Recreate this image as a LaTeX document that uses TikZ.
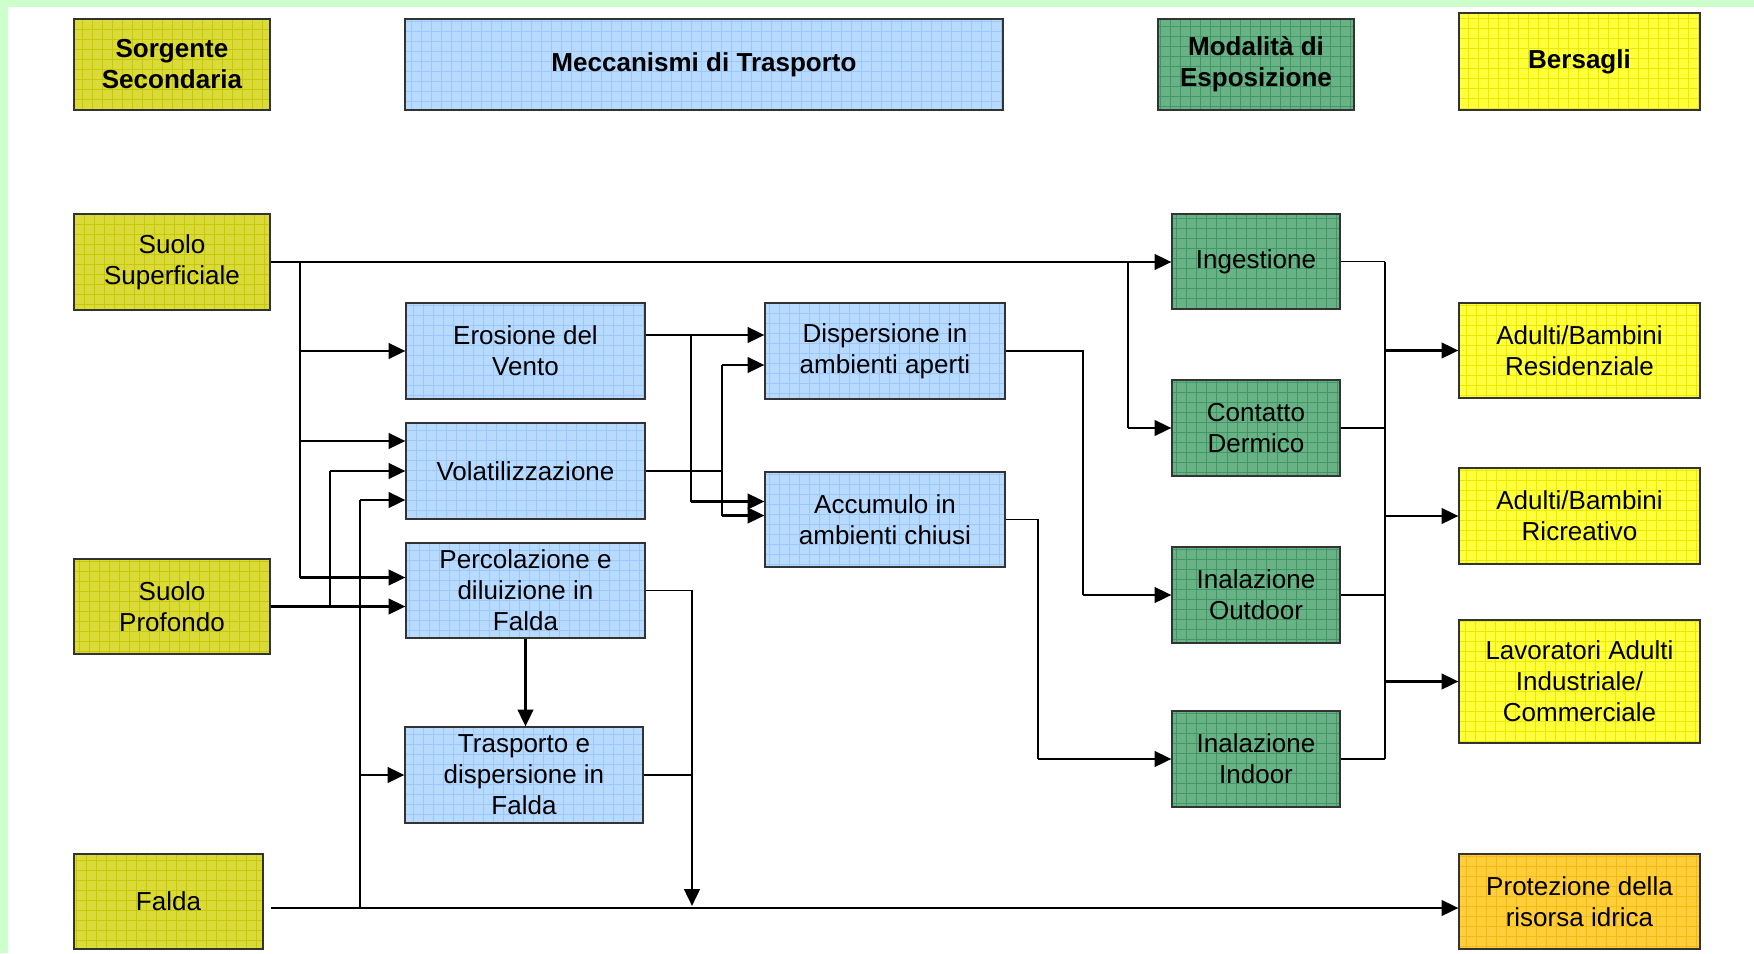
\documentclass[tikz,border=0pt]{standalone}
\usepackage{fontspec}
\setmainfont{Liberation Sans}
\usetikzlibrary{arrows.meta,calc}

\definecolor{bordo}{RGB}{204,255,204}
\definecolor{oliva}{RGB}{218,218,56}
\definecolor{olivagrid}{RGB}{200,200,10}
\definecolor{azzurro}{RGB}{185,218,255}
\definecolor{azzurrogrid}{RGB}{155,200,250}
\definecolor{verde}{RGB}{104,178,134}
\definecolor{verdegrid}{RGB}{64,152,102}
\definecolor{giallo}{RGB}{255,255,60}
\definecolor{giallogrid}{RGB}{235,235,0}
\definecolor{arancio}{RGB}{255,206,56}
\definecolor{aranciogrid}{RGB}{242,186,20}

\newcommand{\testo}{\fontsize{18.5}{22}\selectfont}
% name, style, x1, y1, x2, y2, text (pixel coordinates)
\newcommand{\blocco}[7]{\node[#2, minimum width={(#5-#3)*0.025cm}, minimum height={(#6-#4)*0.025cm}] (#1) at ({(#3+#5)/2},{(#4+#6)/2}) {#7};}

\tikzset{
  box/.style={draw=black!80, line width=0.8pt, inner sep=0pt, align=center, font=\testo},
  gridded/.style={path picture={\draw[#1, line width=0.5pt] (path picture bounding box.south west) grid[step=0.25cm] (path picture bounding box.north east);}},
  src/.style={box, fill=oliva, gridded=olivagrid},
  mech/.style={box, fill=azzurro, gridded=azzurrogrid},
  expo/.style={box, fill=verde, gridded=verdegrid},
  target/.style={box, fill=giallo, gridded=giallogrid},
  water/.style={box, fill=arancio, gridded=aranciogrid},
  head/.style={font=\testo\bfseries},
  flow/.style={line width=2pt, -{Triangle[length=12pt,width=11pt]}},
  trunk/.style={line width=1.5pt},
  link/.style={line width=1pt}
}

\begin{document}
\begin{tikzpicture}[x=0.025cm, y=-0.025cm]
	%%%%% SFONDO %%%%%
	\useasboundingbox (0,0) rectangle (1754,953);
	\fill[white] (0,0) rectangle (1754,953);
	\fill[bordo] (0,0) rectangle (1754,7);
	\fill[bordo] (0,0) rectangle (8,953);
	
	%%%%% INTESTAZIONI %%%%%
	\blocco{sorg}{src,head}{74}{19}{270}{110}{Sorgente\\Secondaria}
	\blocco{mecc}{mech,head}{405}{19}{1003}{110}{Meccanismi di Trasporto}
	\blocco{modal}{expo,head}{1158}{19}{1354}{110}{Modalità di\\Esposizione}
	\blocco{bers}{target,head}{1459}{13}{1700}{110}{Bersagli}
	
	%%%%% SORGENTI %%%%%
	\blocco{suolosup}{src}{74}{214}{270}{310}{Suolo\\Superficiale}
	\blocco{suoloprof}{src}{74}{559}{270}{654}{Suolo\\Profondo}
	\blocco{falda}{src}{74}{854}{263}{949}{Falda}
	
	%%%%% TRASPORTO %%%%%
	\blocco{erosione}{mech}{406}{303}{645}{399}{Erosione del\\Vento}
	\blocco{volat}{mech}{406}{423}{645}{519}{Volatilizzazione}
	\blocco{perc}{mech}{406}{543}{645}{638}{Percolazione e\\diluizione in\\Falda}
	\blocco{trasp}{mech}{405}{727}{643}{823}{Trasporto e\\dispersione in\\Falda}
	\blocco{disp}{mech}{765}{303}{1005}{399}{Dispersione in\\ambienti aperti}
	\blocco{accum}{mech}{765}{472}{1005}{567}{Accumulo in\\ambienti chiusi}
	
	%%%%% ESPOSIZIONE %%%%%
	\blocco{ingest}{expo}{1172}{214}{1340}{309}{Ingestione}
	\blocco{contatto}{expo}{1172}{380}{1340}{476}{Contatto\\Dermico}
	\blocco{outdoor}{expo}{1172}{547}{1340}{643}{Inalazione\\Outdoor}
	\blocco{indoor}{expo}{1172}{711}{1340}{807}{Inalazione\\Indoor}
	
	%%%%% BERSAGLI %%%%%
	\blocco{resid}{target}{1459}{303}{1700}{398}{Adulti/Bambini\\Residenziale}
	\blocco{ricr}{target}{1459}{468}{1700}{564}{Adulti/Bambini\\Ricreativo}
	\blocco{lavor}{target}{1459}{620}{1700}{743}{Lavoratori Adulti\\Industriale/\\Commerciale}
	\blocco{prot}{water}{1459}{854}{1700}{949}{Protezione della\\risorsa idrica}
	
	%%%%% PUNTI DI ARRIVO %%%%%
	\coordinate (volA) at ([yshift=0.75cm]volat.west);
	\coordinate (volC) at ([yshift=-0.725cm]volat.west);
	\coordinate (percA) at ([yshift=0.325cm]perc.west);
	\coordinate (erosE) at ([yshift=0.4cm]erosione.east);
	\coordinate (dispA) at ([yshift=0.4cm]disp.west);
	\coordinate (dispB) at ([yshift=-0.35cm]disp.west);
	\coordinate (accA) at ([yshift=0.45cm]accum.west);
	\coordinate (accB) at ([yshift=0.1cm]accum.west);
	\coordinate (fS) at ([shift={(0.175cm,-0.1625cm)}]falda.east);
	
	%%%%% SUOLO SUPERFICIALE %%%%%
	\coordinate (tA) at (300,262);
	\draw[flow] (suolosup.east) -- (suolosup.east -| ingest.west);
	\draw[trunk] (tA) -- (tA |- percA);
	\draw[flow] (tA |- erosione.west) -- (erosione.west);
	\draw[flow] (tA |- volA) -- (volA);
	\draw[flow] (tA |- percA) -- (percA);
	
	%%%%% SUOLO PROFONDO %%%%%
	\coordinate (tB) at (330,606.5);
	\draw[flow] (suoloprof.east) -- (suoloprof.east -| perc.west);
	\draw[trunk] (tB) -- (tB |- volat.west);
	\draw[flow] (tB |- volat.west) -- (volat.west);
	
	%%%%% FALDA %%%%%
	\coordinate (tC) at (360,908);
	\draw[flow] (fS) -- (fS -| prot.west);
	\draw[trunk] (tC) -- (tC |- volC);
	\draw[flow] (tC |- volC) -- (volC);
	\draw[flow] (tC |- trasp.west) -- (trasp.west);
	
	%%%%% PERCOLAZIONE / TRASPORTO %%%%%
	\coordinate (jD) at (692,906);
	\draw[flow] (perc.south) -- (perc.south |- trasp.north);
	\draw[link] (perc.east) -| (jD |- trasp.east);
	\draw[link] (trasp.east) -- (jD |- trasp.east);
	\draw[flow] (jD |- trasp.east) -- (jD);
	
	%%%%% EROSIONE / VOLATILIZZAZIONE %%%%%
	\coordinate (xE) at (691,0);
	\coordinate (xV) at (722,0);
	\draw[flow] (erosE) -- (dispA);
	\draw[trunk] (xE |- erosE) -- (xE |- accA);
	\draw[flow] (xE |- accA) -- (accA);
	\draw[link] (volat.east) -- (xV |- volat.east);
	\draw[trunk] (xV |- dispB) -- (xV |- accB);
	\draw[flow] (xV |- dispB) -- (dispB);
	\draw[flow] (xV |- accB) -- (accB);
	
	%%%%% VERSO L'ESPOSIZIONE %%%%%
	\coordinate (xF) at (1083,0);
	\coordinate (xG) at (1038,0);
	\coordinate (xI) at (1128,0);
	\draw[link] (disp.east) -| (xF |- outdoor.west);
	\draw[flow] (xF |- outdoor.west) -- (outdoor.west);
	\draw[link] (accum.east) -| (xG |- indoor.west);
	\draw[flow] (xG |- indoor.west) -- (indoor.west);
	\draw[trunk] (xI |- suolosup.east) -- (xI |- contatto.west);
	\draw[flow] (xI |- contatto.west) -- (contatto.west);
	
	%%%%% VERSO I BERSAGLI %%%%%
	\coordinate (xB) at (1385,0);
	\foreach \m in {ingest,contatto,outdoor,indoor}
		\draw[link] (\m.east) -- (xB |- \m.east);
	\draw[link] (xB |- ingest.east) -- (xB |- indoor.east);
	\foreach \t in {resid,ricr,lavor}
		\draw[flow] (xB |- \t.west) -- (\t.west);
\end{tikzpicture}
\end{document}
